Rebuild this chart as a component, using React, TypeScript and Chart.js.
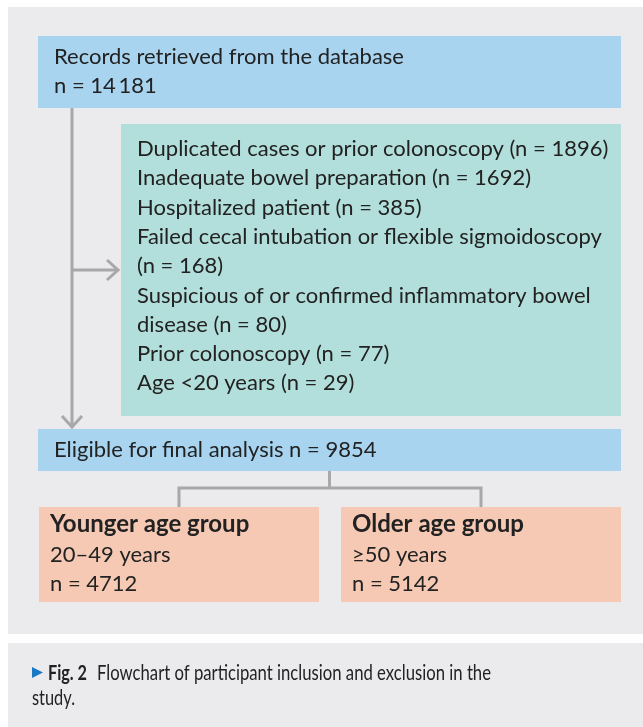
import { useEffect, useRef } from 'react';
import { Chart, registerables } from 'chart.js';

Chart.register(...registerables);

// ---------- data ----------
const recordsLabel = 'Records retrieved from the database';
const recordsTotal = 14181;
const exclusionReasons = [
  'Duplicated cases or prior colonoscopy',
  'Inadequate bowel preparation',
  'Hospitalized patient',
  'Failed cecal intubation or flexible sigmoidoscopy\n',
  'Suspicious of or confirmed inflammatory bowel\ndisease',
  'Prior colonoscopy',
  'Age <20 years',
];
const exclusionCounts = [1896, 1692, 385, 168, 80, 77, 29];
const eligibleLabel = 'Eligible for final analysis';
const eligibleTotal = 9854;
const groupNames = ['Younger age group', 'Older age group'];
const groupRanges = ['20–49 years', '≥50 years'];
const groupCounts = [4712, 5142];
const captionFig = 'Fig. 2';
const captionLines = ['Flowchart of participant inclusion and exclusion in the', 'study.'];

// ---------- layout (page pixels) ----------
const W = 643;
const H = 727;
const L = {
  panel: [8, 7, 643, 634],
  captionPanel: [8, 643, 643, 727],
  records: [38, 36, 621, 108],
  exclusions: [121, 124, 621, 416],
  eligible: [38, 429, 621, 471],
  groups: [
    [39, 507, 319, 602],
    [341, 507, 621, 602],
  ],
  trunkX: 72,
  splitY: 488,
  arrow: 10,
  lineH: 29.3,
  padX: 16,
};
const COLORS = {
  panel: '#ebebee',
  blue: '#a8d4f0',
  green: '#b2dfdb',
  salmon: '#f5c9b3',
  line: '#a8a8aa',
  text: '#222222',
  tri: '#1b79c4',
};
const FONT = "Lato, 'Open Sans', sans-serif";
const fmt = (n: number) => (n >= 10000 ? String(n).replace(/(\d)(?=(\d{3})+$)/g, '$1\u2009') : String(n));

// connectors derived from layout
const exMidY = (L.exclusions[1] + L.exclusions[3]) / 2;
const eligMidX = (L.eligible[0] + L.eligible[2]) / 2;
const gMid = L.groups.map((g) => (g[0] + g[2]) / 2);
const a = L.arrow;
const connectors = [
  [[L.trunkX, L.records[3]], [L.trunkX, L.eligible[1] - 2]],
  [[L.trunkX - a, L.eligible[1] - 2 - a - 1], [L.trunkX, L.eligible[1] - 2], [L.trunkX + a, L.eligible[1] - 2 - a - 1]],
  [[L.trunkX, exMidY], [L.exclusions[0] - 3, exMidY]],
  [[L.exclusions[0] - 3 - a - 1, exMidY - a], [L.exclusions[0] - 3, exMidY], [L.exclusions[0] - 3 - a - 1, exMidY + a]],
  [[eligMidX, L.eligible[3]], [eligMidX, L.splitY]],
  [[gMid[0], L.groups[0][1]], [gMid[0], L.splitY], [gMid[1], L.splitY], [gMid[1], L.groups[1][1]]],
];

const flowPlugin = {
  id: 'flow',
  beforeDatasetsDraw(chart: any) {
    const { ctx, scales } = chart;
    const x = scales.x, y = scales.y;
    const rect = (r: number[], color: string) => {
      const x0 = x.getPixelForValue(r[0]);
      const x1 = x.getPixelForValue(r[2]);
      const y0 = y.getPixelForValue(r[1]);
      const y1 = y.getPixelForValue(r[3]);
      ctx.save();
      ctx.fillStyle = color;
      ctx.fillRect(x0, y0, x1 - x0, y1 - y0);
      ctx.restore();
    };
    rect(L.panel, COLORS.panel);
    rect(L.captionPanel, COLORS.panel);
    rect(L.records, COLORS.blue);
    rect(L.exclusions, COLORS.green);
    rect(L.eligible, COLORS.blue);
    L.groups.forEach((g) => rect(g, COLORS.salmon));
  },
  afterDatasetsDraw(chart: any) {
    const { ctx, scales } = chart;
    const x = scales.x, y = scales.y;
    const text = (s: string, vx: number, vy: number, font: string, color = COLORS.text, maxW?: number) => {
      ctx.save();
      ctx.font = font;
      ctx.fillStyle = color;
      ctx.textBaseline = 'alphabetic';
      ctx.textAlign = 'left';
      if (maxW) ctx.fillText(s, x.getPixelForValue(vx), y.getPixelForValue(vy), maxW);
      else ctx.fillText(s, x.getPixelForValue(vx), y.getPixelForValue(vy));
      ctx.restore();
    };
    const reg = `22px ${FONT}`;
    const bold = `bold 24px ${FONT}`;
    // records
    text(recordsLabel, L.records[0] + L.padX, 64, reg);
    text(`n = ${fmt(recordsTotal)}`, L.records[0] + L.padX, 93, reg);
    // exclusions
    const lines: string[] = [];
    exclusionReasons.forEach((r, i) => {
      const full = r.endsWith('\n') ? `${r}(n = ${exclusionCounts[i]})` : `${r} (n = ${exclusionCounts[i]})`;
      full.split('\n').forEach((l) => lines.push(l));
    });
    lines.forEach((l, i) => text(l, L.exclusions[0] + L.padX, 156 + i * L.lineH, reg));
    // eligible
    text(`${eligibleLabel} n = ${fmt(eligibleTotal)}`, L.eligible[0] + L.padX, 457, reg);
    // groups
    L.groups.forEach((g, i) => {
      const gx = g[0] + 11;
      text(groupNames[i], gx, 532, bold);
      text(groupRanges[i], gx, 561.5, reg);
      text(`n = ${fmt(groupCounts[i])}`, gx, 591, reg);
    });
    // caption
    const cy = 680;
    ctx.save();
    ctx.fillStyle = COLORS.tri;
    ctx.beginPath();
    ctx.moveTo(x.getPixelForValue(32), y.getPixelForValue(cy - 13));
    ctx.lineTo(x.getPixelForValue(43), y.getPixelForValue(cy - 7.5));
    ctx.lineTo(x.getPixelForValue(32), y.getPixelForValue(cy - 2));
    ctx.closePath();
    ctx.fill();
    ctx.restore();
    text(captionFig, 48, cy, `bold 21px ${FONT}`, COLORS.text, 39);
    text(captionLines[0], 97, cy, `21px ${FONT}`, COLORS.text, 394);
    text(captionLines[1], 32, 705, `21px ${FONT}`, COLORS.text, 43);
  },
};

export default function App() {
  const ref = useRef<HTMLCanvasElement>(null);
  useEffect(() => {
    document.body.style.margin = '0';
    const canvas = ref.current;
    if (!canvas) return;
    const chart = new Chart(canvas, {
      type: 'scatter',
      data: {
        datasets: connectors.map((pts) => ({
          data: pts.map(([px, py]) => ({ x: px, y: py })),
          showLine: true,
          borderColor: COLORS.line,
          borderWidth: 3,
          pointRadius: 0,
          fill: false,
          tension: 0,
        })),
      },
      options: {
        responsive: false,
        maintainAspectRatio: false,
        animation: false,
        events: [],
        layout: { padding: 0 },
        plugins: { legend: { display: false }, tooltip: { enabled: false } },
        scales: {
          x: { type: 'linear', min: 0, max: W, display: false },
          y: { type: 'linear', min: 0, max: H, reverse: true, display: false },
        },
      },
      plugins: [flowPlugin],
    });
    return () => chart.destroy();
  }, []);
  return (
    <div style={{ position: 'absolute', left: 0, top: 0, width: W, height: H }}>
      <canvas ref={ref} width={W} height={H} style={{ display: 'block', width: W, height: H }} />
    </div>
  );
}
